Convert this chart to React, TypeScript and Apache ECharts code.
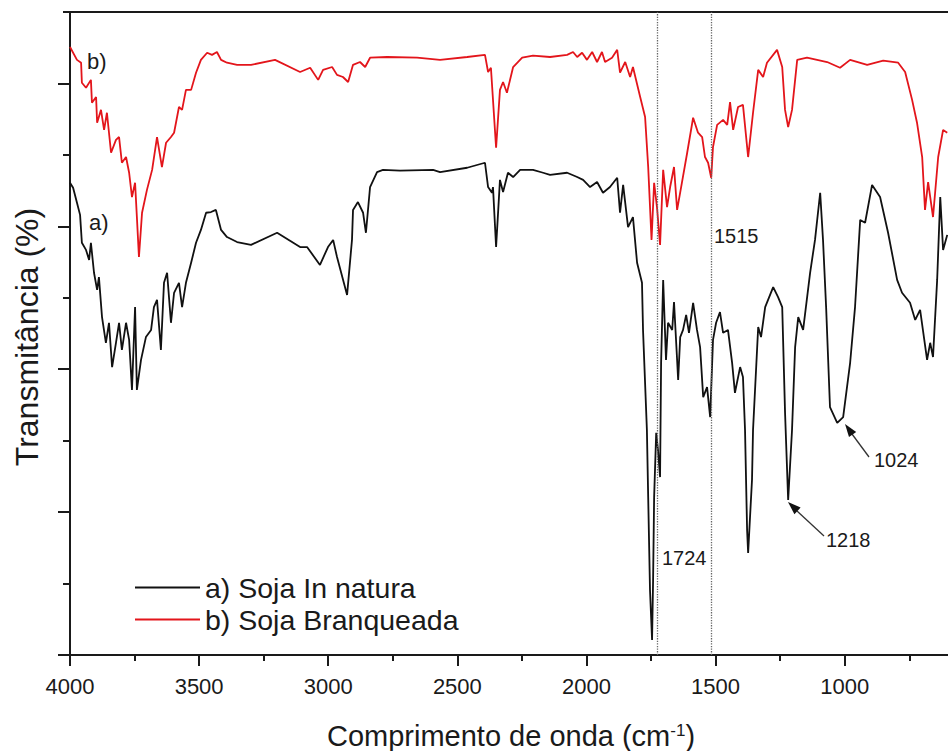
import { useEffect, useRef } from "react";
import * as echarts from "echarts";

const xTickLabels = [4000, 3500, 3000, 2500, 2000, 1500, 1000];
const xMinorTicks = [3750, 3250, 2750, 2250, 1750, 1250, 750];
const yMajorTicks = [0, 20, 40, 60, 80];
const yMinorTicks = [10, 30, 50, 70, 90];
const seriesNames = ["a) Soja In natura", "b) Soja Branqueada"];
const markedBands = [1724, 1515];

const waveA = [
  4000, 3988, 3973, 3961, 3954, 3938, 3926, 3919, 3907, 3895,
  3888, 3876, 3861, 3849, 3837, 3822, 3810, 3799, 3783, 3771,
  3760, 3748, 3741, 3725, 3706, 3686, 3675, 3663, 3648, 3636,
  3624, 3609, 3597, 3578, 3566, 3551, 3531, 3512, 3493, 3473,
  3454, 3435, 3415, 3392, 3353, 3299, 3198, 3109, 3082, 3032,
  3001, 2981, 2966, 2927, 2908, 2904, 2885, 2865, 2854, 2838,
  2811, 2788, 2722, 2594, 2567, 2462, 2393, 2381, 2366, 2362,
  2350, 2335, 2323, 2304, 2284, 2257, 2207, 2168, 2141, 2075,
  2036, 2013, 1986, 1959, 1936, 1909, 1881, 1870, 1858, 1839,
  1820, 1804, 1785, 1781, 1766, 1761, 1754, 1746, 1742, 1738,
  1730, 1723, 1715, 1711, 1703, 1692, 1684, 1668, 1661, 1649,
  1645, 1637, 1626, 1614, 1603, 1587, 1572, 1560, 1548, 1533,
  1521, 1510, 1498, 1483, 1471, 1452, 1436, 1425, 1405, 1394,
  1386, 1378, 1374, 1359, 1355, 1335, 1324, 1308, 1277, 1258,
  1242, 1231, 1219, 1204, 1192, 1180, 1161, 1134, 1115, 1095,
  1084, 1072, 1057, 1029, 1006, 979, 960, 940, 921, 894,
  863, 832, 797, 778, 747, 727, 708, 681, 669, 658,
  642, 630, 619, 603,
];
const transA = [
  66.1, 65.4, 63.3, 61.6, 57.7, 56.7, 55.3, 57.7, 53.5, 51.1,
  52.9, 47.3, 43.7, 46.5, 40.3, 43.7, 46.5, 42.7, 46.5, 44.1,
  37.1, 48.7, 37.1, 41.3, 44.5, 45.5, 48.7, 49.7, 42.7, 52.1,
  53.5, 46.5, 50.7, 52.1, 48.7, 52.1, 54.9, 57.7, 59.5, 61.9,
  62.0, 62.3, 59.5, 58.5, 57.8, 57.4, 59.1, 57.1, 57.1, 54.6,
  57.1, 58.1, 55.7, 50.4, 58.1, 62.3, 63.4, 61.9, 59.1, 65.5,
  67.6, 67.9, 67.8, 67.9, 67.6, 68.2, 68.9, 65.5, 64.7, 65.5,
  57.1, 66.5, 64.8, 67.5, 66.9, 67.9, 67.9, 67.5, 67.2, 67.5,
  66.9, 66.5, 65.5, 66.2, 64.7, 65.5, 66.8, 61.9, 65.8, 59.9,
  61.3, 54.9, 52.1, 45.5, 31.5, 22.1, 9.1, 2.1, 10.5, 22.1,
  31.1, 28.7, 24.9, 40.9, 52.5, 41.3, 46.5, 45.5, 49.4, 41.3,
  38.5, 44.5, 45.5, 47.6, 45.1, 49.3, 45.5, 43.1, 36.1, 37.5,
  33.3, 44.1, 46.5, 48.0, 45.1, 45.5, 40.9, 36.7, 40.3, 38.9,
  31.5, 17.5, 14.3, 24.5, 31.5, 45.9, 44.5, 48.7, 51.5, 50.1,
  48.7, 33.9, 21.7, 31.5, 43.1, 47.3, 45.5, 53.5, 58.1, 64.7,
  58.1, 48.7, 34.7, 32.5, 33.3, 40.9, 48.7, 60.9, 60.5, 65.8,
  64.1, 59.1, 52.5, 50.7, 49.3, 46.9, 48.3, 41.3, 43.7, 41.7,
  52.5, 64.1, 56.7, 58.8,
];

const waveB = [
  4000, 3973, 3957, 3954, 3938, 3919, 3915, 3899, 3895, 3880,
  3868, 3857, 3841, 3822, 3810, 3799, 3783, 3771, 3760, 3748,
  3741, 3733, 3721, 3702, 3682, 3663, 3644, 3628, 3609, 3597,
  3578, 3566, 3551, 3531, 3512, 3493, 3469, 3450, 3431, 3415,
  3392, 3353, 3299, 3206, 3109, 3070, 3039, 3020, 2985, 2966,
  2943, 2923, 2904, 2877, 2857, 2838, 2772, 2656, 2567, 2462,
  2393, 2381, 2370, 2350, 2335, 2323, 2308, 2284, 2249, 2207,
  2141, 2075, 2052, 2036, 2017, 1998, 1978, 1959, 1940, 1928,
  1901, 1881, 1870, 1850, 1831, 1820, 1792, 1773, 1761, 1748,
  1738, 1727, 1715, 1703, 1688, 1676, 1661, 1649, 1630, 1610,
  1587, 1568, 1552, 1541, 1529, 1517, 1510, 1494, 1471, 1455,
  1444, 1432, 1413, 1394, 1374, 1355, 1335, 1316, 1301, 1262,
  1242, 1231, 1219, 1204, 1184, 1146, 1068, 1018, 979, 913,
  851, 793, 766, 739, 720, 700, 689, 677, 658, 638,
  619, 603,
];
const transB = [
  85.1, 83.3, 82.9, 80.1, 79.4, 80.5, 77.3, 78.1, 74.5, 76.3,
  73.5, 75.9, 70.3, 72.1, 72.5, 68.9, 69.7, 67.5, 64.1, 66.1,
  61.3, 55.7, 61.9, 65.1, 67.9, 72.5, 68.3, 71.7, 72.5, 73.1,
  76.7, 76.3, 79.1, 79.1, 81.5, 83.3, 84.3, 84.0, 84.4, 83.3,
  82.9, 82.6, 82.6, 83.3, 81.6, 82.2, 80.5, 81.9, 82.3, 81.2,
  80.9, 80.2, 82.6, 83.0, 82.3, 83.6, 83.7, 83.6, 83.3, 83.7,
  84.0, 81.6, 82.2, 71.0, 79.1, 80.2, 78.7, 82.3, 83.6, 83.9,
  83.7, 84.0, 84.4, 83.7, 84.3, 83.3, 84.4, 83.0, 84.4, 83.0,
  83.6, 84.7, 81.5, 83.0, 80.9, 82.3, 78.1, 75.3, 68.3, 58.1,
  66.1, 62.7, 57.4, 67.9, 62.7, 65.5, 68.3, 62.3, 66.2, 70.3,
  75.2, 73.1, 72.5, 69.7, 68.9, 66.8, 71.1, 74.2, 74.9, 74.2,
  77.4, 73.5, 76.7, 77.0, 69.7, 75.9, 81.9, 80.9, 82.9, 84.7,
  82.3, 76.3, 73.9, 76.3, 83.3, 83.6, 83.0, 82.2, 83.3, 82.6,
  83.2, 82.9, 81.6, 77.7, 74.5, 69.7, 62.3, 66.2, 61.3, 69.7,
  73.5, 73.1,
];

const FONT = '"Liberation Sans", Arial, Helvetica, sans-serif';
const AXIS_COLOR = "#1a1a1a";

function zip(xs: number[], ys: number[]) {
  return xs.map((x, i) => [x, ys[i]]);
}

export default function App() {
  const ref = useRef<HTMLDivElement>(null);
  useEffect(() => {
    document.body.style.margin = "0";
    if (!ref.current) return;
    const chart = echarts.init(ref.current, null, { renderer: "svg" });
    const axisLineStyle = { color: AXIS_COLOR, width: 2 };
    chart.setOption({
      animation: false,
      backgroundColor: "#ffffff",
      grid: { left: 70, right: 0, top: 12, bottom: 96, containLabel: false },
      legend: {
        data: seriesNames,
        orient: "vertical",
        left: 130,
        top: 568,
        icon: "rect",
        itemWidth: 65,
        itemHeight: 2,
        itemGap: 3,
        textStyle: { fontSize: 28.5, color: AXIS_COLOR, fontFamily: FONT },
      },
      xAxis: [
        {
          type: "value",
          min: 600,
          max: 4000,
          inverse: true,
          position: "bottom",
          axisLine: { show: true, onZero: false, lineStyle: axisLineStyle },
          axisTick: { show: true, length: 11, customValues: xTickLabels, lineStyle: axisLineStyle },
          axisLabel: {
            show: true,
            customValues: xTickLabels,
            formatter: (v: number) => String(v),
            margin: 20,
            fontSize: 22,
            color: AXIS_COLOR,
            fontFamily: FONT,
          },
          splitLine: { show: false },
        },
        {
          type: "value",
          min: 600,
          max: 4000,
          inverse: true,
          position: "bottom",
          axisLine: { show: false, onZero: false },
          axisTick: { show: true, length: 6, customValues: xMinorTicks, lineStyle: axisLineStyle },
          axisLabel: { show: false },
          splitLine: { show: false },
        },
        {
          type: "value",
          min: 600,
          max: 4000,
          inverse: true,
          position: "top",
          axisLine: { show: true, onZero: false, lineStyle: axisLineStyle },
          axisTick: { show: false },
          axisLabel: { show: false },
          splitLine: { show: false },
        },
      ],
      yAxis: [
        {
          type: "value",
          min: 0,
          max: 90,
          position: "left",
          axisLine: { show: true, onZero: false, lineStyle: axisLineStyle },
          axisTick: { show: true, length: 12, customValues: yMajorTicks, lineStyle: axisLineStyle },
          axisLabel: { show: false },
          splitLine: { show: false },
        },
        {
          type: "value",
          min: 0,
          max: 90,
          position: "left",
          axisLine: { show: false, onZero: false },
          axisTick: { show: true, length: 7, customValues: yMinorTicks, lineStyle: axisLineStyle },
          axisLabel: { show: false },
          splitLine: { show: false },
        },
      ],
      series: [
        {
          name: seriesNames[0],
          type: "line",
          data: zip(waveA, transA),
          showSymbol: false,
          symbol: "none",
          lineStyle: { color: "#111111", width: 1.8 },
          itemStyle: { color: "#111111" },
          markLine: {
            silent: true,
            symbol: ["none", "none"],
            label: { show: false },
            lineStyle: { type: "dotted", color: "#666666", width: 1.3 },
            data: markedBands.map((v) => ({ xAxis: v })),
          },
        },
        {
          name: seriesNames[1],
          type: "line",
          data: zip(waveB, transB),
          showSymbol: false,
          symbol: "none",
          lineStyle: { color: "#e3151b", width: 1.8 },
          itemStyle: { color: "#e3151b" },
        },
      ],
      graphic: [
        {
          type: "text",
          x: 511,
          y: 736,
          style: {
            text: "Comprimento de onda (cm{sup|-1})",
            font: `29px ${FONT}`,
            fill: AXIS_COLOR,
            align: "center",
            verticalAlign: "middle",
            rich: {
              sup: { fontSize: 17, fontFamily: FONT, fill: AXIS_COLOR, verticalAlign: "top" },
            },
          },
        },
        {
          type: "text",
          x: 27,
          y: 337,
          rotation: Math.PI / 2,
          style: {
            text: "Transmitância (%)",
            font: `32px ${FONT}`,
            fill: AXIS_COLOR,
            align: "center",
            verticalAlign: "middle",
          },
        },
        { type: "text", x: 87, y: 61, style: { text: "b)", font: `22px ${FONT}`, fill: AXIS_COLOR, verticalAlign: "middle" } },
        { type: "text", x: 89, y: 222, style: { text: "a)", font: `22px ${FONT}`, fill: AXIS_COLOR, verticalAlign: "middle" } },
        { type: "text", x: 714, y: 236, style: { text: "1515", font: `20px ${FONT}`, fill: AXIS_COLOR, verticalAlign: "middle" } },
        { type: "text", x: 662, y: 558, style: { text: "1724", font: `20px ${FONT}`, fill: AXIS_COLOR, verticalAlign: "middle" } },
        { type: "text", x: 826, y: 540, style: { text: "1218", font: `20px ${FONT}`, fill: AXIS_COLOR, verticalAlign: "middle" } },
        { type: "text", x: 874, y: 460, style: { text: "1024", font: `20px ${FONT}`, fill: AXIS_COLOR, verticalAlign: "middle" } },
        { type: "line", shape: { x1: 824, y1: 536, x2: 797, y2: 511 }, style: { stroke: "#333333", lineWidth: 1.3 } },
        { type: "polygon", shape: { points: [[788, 502], [800.6, 507.6], [794.4, 514.2]] }, style: { fill: "#111111" } },
        { type: "line", shape: { x1: 869, y1: 457, x2: 852, y2: 434 }, style: { stroke: "#333333", lineWidth: 1.3 } },
        { type: "polygon", shape: { points: [[845, 424], [856.2, 431.9], [849, 437.1]] }, style: { fill: "#111111" } },
      ],
    });
    return () => chart.dispose();
  }, []);
  return <div ref={ref} style={{ width: 948, height: 751 }} />;
}
